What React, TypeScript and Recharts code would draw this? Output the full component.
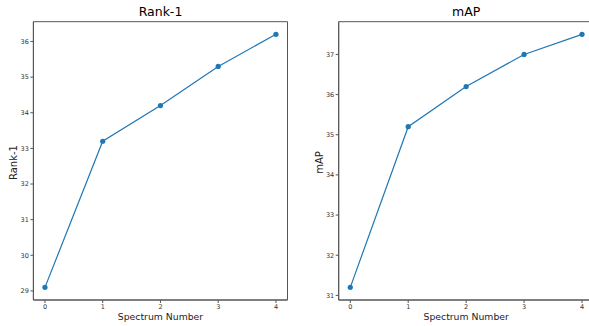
import { Line, LineChart, ReferenceArea, XAxis, YAxis } from "recharts";

const SPECTRUM = [0, 1, 2, 3, 4];
const RANK1 = [29.1, 33.2, 34.2, 35.3, 36.2];
const MAP = [31.2, 35.2, 36.2, 37.0, 37.5];
const RANK1_TICKS = [29, 30, 31, 32, 33, 34, 35, 36];
const MAP_TICKS = [31, 32, 33, 34, 35, 36, 37];

const FONT = "'DejaVu Sans', sans-serif";
const BLUE = "#1f77b4";
const SPINE = "#555555";
const X_DOMAIN: [number, number] = [-0.2, 4.2];

const rankData = SPECTRUM.map((s, i) => ({ s, v: RANK1[i] }));
const mapData = SPECTRUM.map((s, i) => ({ s, v: MAP[i] }));

type PanelProps = {
  data: { s: number; v: number }[];
  ticks: number[];
  domain: [number, number];
  left: number;
  width: number;
  margin: { top: number; right: number; bottom: number; left: number };
  title: string;
  titleX: number;
  yLabelX: number;
};

function Panel({ data, ticks, domain, left, width, margin, title, titleX, yLabelX }: PanelProps) {
  const tick = { fontSize: 6.5, fill: "#333", fontFamily: FONT };
  return (
    <>
      <div style={{ position: "absolute", left, top: 0 }}>
        <LineChart width={width} height={326} data={data} margin={margin}>
          <XAxis
            dataKey="s"
            type="number"
            domain={X_DOMAIN}
            ticks={SPECTRUM}
            height={26}
            tick={tick}
            tickSize={3}
            tickMargin={1.5}
            stroke={SPINE}
            tickLine={{ stroke: SPINE }}
            axisLine={{ stroke: SPINE, strokeWidth: 1 }}
          />
          <YAxis
            type="number"
            domain={domain}
            ticks={ticks}
            width={25}
            tick={tick}
            tickSize={3}
            tickMargin={1.5}
            tickLine={{ stroke: SPINE }}
            axisLine={{ stroke: SPINE, strokeWidth: 1 }}
          />
          <ReferenceArea
            x1={X_DOMAIN[0]}
            x2={X_DOMAIN[1]}
            y1={domain[0]}
            y2={domain[1]}
            fill="none"
            fillOpacity={0}
            stroke={SPINE}
            strokeWidth={1}
            ifOverflow="visible"
          />
          <Line
            dataKey="v"
            type="linear"
            stroke={BLUE}
            strokeWidth={1.2}
            dot={{ r: 2.6, fill: BLUE, stroke: BLUE, strokeWidth: 0 }}
            isAnimationActive={false}
          />
        </LineChart>
      </div>
      <div
        style={{
          position: "absolute",
          left: titleX - 60,
          width: 120,
          top: 4,
          textAlign: "center",
          fontFamily: FONT,
          fontSize: 12.5,
          color: "#000",
          lineHeight: "16px",
        }}
      >
        {title}
      </div>
      <div
        style={{
          position: "absolute",
          left: titleX - 60,
          width: 120,
          top: 310,
          textAlign: "center",
          fontFamily: FONT,
          fontSize: 9.3,
          color: "#222",
          lineHeight: "13px",
        }}
      >
        Spectrum Number
      </div>
      <div
        style={{
          position: "absolute",
          left: yLabelX - 40,
          width: 80,
          top: 162 - 6.5,
          textAlign: "center",
          fontFamily: FONT,
          fontSize: 10,
          color: "#222",
          lineHeight: "13px",
          transform: "rotate(-90deg)",
        }}
      >
        {title}
      </div>
    </>
  );
}

export default function App() {
  return (
    <div
      style={{
        position: "fixed",
        left: 0,
        top: 0,
        width: 589,
        height: 326,
        overflow: "hidden",
        background: "#fff",
      }}
    >
      <Panel
        data={rankData}
        ticks={RANK1_TICKS}
        domain={[28.745, 36.555]}
        left={0}
        width={300}
        margin={{ top: 21.7, right: 12.5, bottom: 0, left: 8.4 }}
        title="Rank-1"
        titleX={160.5}
        yLabelX={13}
      />
      <Panel
        data={mapData}
        ticks={MAP_TICKS}
        domain={[30.885, 37.815]}
        left={295}
        width={310}
        margin={{ top: 21.7, right: 11.4, bottom: 0, left: 18.7 }}
        title="mAP"
        titleX={466.2}
        yLabelX={319}
      />
    </div>
  );
}
